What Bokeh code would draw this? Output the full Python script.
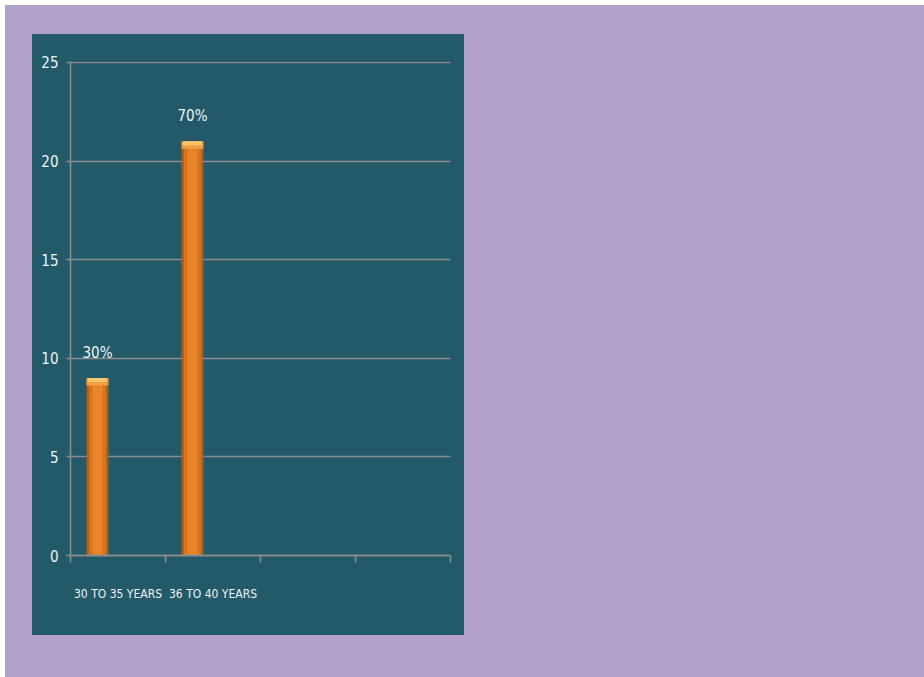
import numpy as np
from bokeh.plotting import figure
from bokeh.models import FixedTicker, Range1d, Spacer, ColumnDataSource
from bokeh.layouts import row, column
from bokeh.core.properties import value
from bokeh.embed import file_html
from bokeh.resources import INLINE

# ---- data ----
categories = ["30 TO 35 YEARS", "36 TO 40 YEARS", "", ""]
counts = [9, 21]
pct_labels = ["30%", "70%"]
y_ticks = [0, 5, 10, 15, 20, 25]

# ---- style ----
LAV = "#b1a1c8"
TEAL = "#225a69"
GRID = "#8c8c8c"
TXT = "#eef2f4"
FONT = "DejaVu Sans Condensed, sans-serif"
BAR_W = 0.23
BAR_SHIFT = -0.216

n = len(categories)
xc = np.arange(len(counts)) + 0.5 + BAR_SHIFT
vals = np.array(counts, dtype=float)

p = figure(width=432, height=601, output_backend="svg", toolbar_location=None,
           x_range=Range1d(0, n), y_range=Range1d(0, 25.05),
           min_border_left=38, min_border_right=14, min_border_top=27, min_border_bottom=80,
           styles={"background-color": TEAL})
p.background_fill_color = None
p.border_fill_color = None
p.outline_line_color = None

# grid
p.xgrid.visible = False
p.ygrid.ticker = FixedTicker(ticks=y_ticks[1:])
p.ygrid.grid_line_color = GRID
p.ygrid.grid_line_width = 1.6

# y axis
ya = p.yaxis[0]
ya.ticker = FixedTicker(ticks=y_ticks)
ya.axis_line_color = GRID
ya.axis_line_width = 1.6
ya.major_tick_line_color = GRID
ya.major_tick_line_width = 1.6
ya.major_tick_in = 0
ya.major_tick_out = 4
ya.minor_tick_line_color = None
ya.major_label_standoff = 8
ya.major_label_text_color = TXT
ya.major_label_text_font = FONT
ya.major_label_text_font_size = "15px"

# x axis: labels at category centres, ticks at boundaries
xa = p.xaxis[0]
centres = list(np.arange(n) + 0.5)
xa.ticker = FixedTicker(ticks=centres, minor_ticks=list(range(n + 1)))
xa.major_label_overrides = {float(c): lab for c, lab in zip(centres, categories)}
xa.axis_line_color = GRID
xa.axis_line_width = 1.8
xa.major_tick_line_color = None
xa.major_tick_in = 0
xa.major_tick_out = 0
xa.minor_tick_line_color = GRID
xa.minor_tick_line_width = 1.6
xa.minor_tick_in = 0
xa.minor_tick_out = 7
xa.major_label_standoff = 24
xa.major_label_text_color = TXT
xa.major_label_text_font = FONT
xa.major_label_text_font_size = "12px"

# bars (layered for a shaded look)
src = ColumnDataSource(dict(x=xc, top=vals, lab=pct_labels))
p.vbar(x="x", top="top", bottom=0, width=BAR_W, source=src,
       fill_color="#b45e1c", line_color=None)
p.vbar(x="x", top="top", bottom=0, width=BAR_W * 0.78, source=src,
       fill_color="#d8741f", line_color=None)
p.vbar(x="x", top="top", bottom=0, width=BAR_W * 0.45, source=src,
       fill_color="#e9842a", line_color=None)
# top bevel
p.vbar(x=xc, top=vals, bottom=vals - 0.38, width=BAR_W, fill_color="#f0a040", line_color=None)
p.vbar(x=xc, top=vals, bottom=vals - 0.2, width=BAR_W * 0.85, fill_color="#fbc56a", line_color=None)

# value labels
p.text(x="x", y="top", text="lab", source=src, y_offset=-25,
       text_align="center", text_baseline="middle", text_color=TXT,
       text_font=value(FONT), text_font_size="15px")

lav = row(Spacer(width=27), column(Spacer(height=29), p),
          width=919, height=672, styles={"background-color": LAV})
root = row(Spacer(width=5), column(Spacer(height=5), lav), width=924, height=677)

open("out.html", "w").write(file_html(root, INLINE))
